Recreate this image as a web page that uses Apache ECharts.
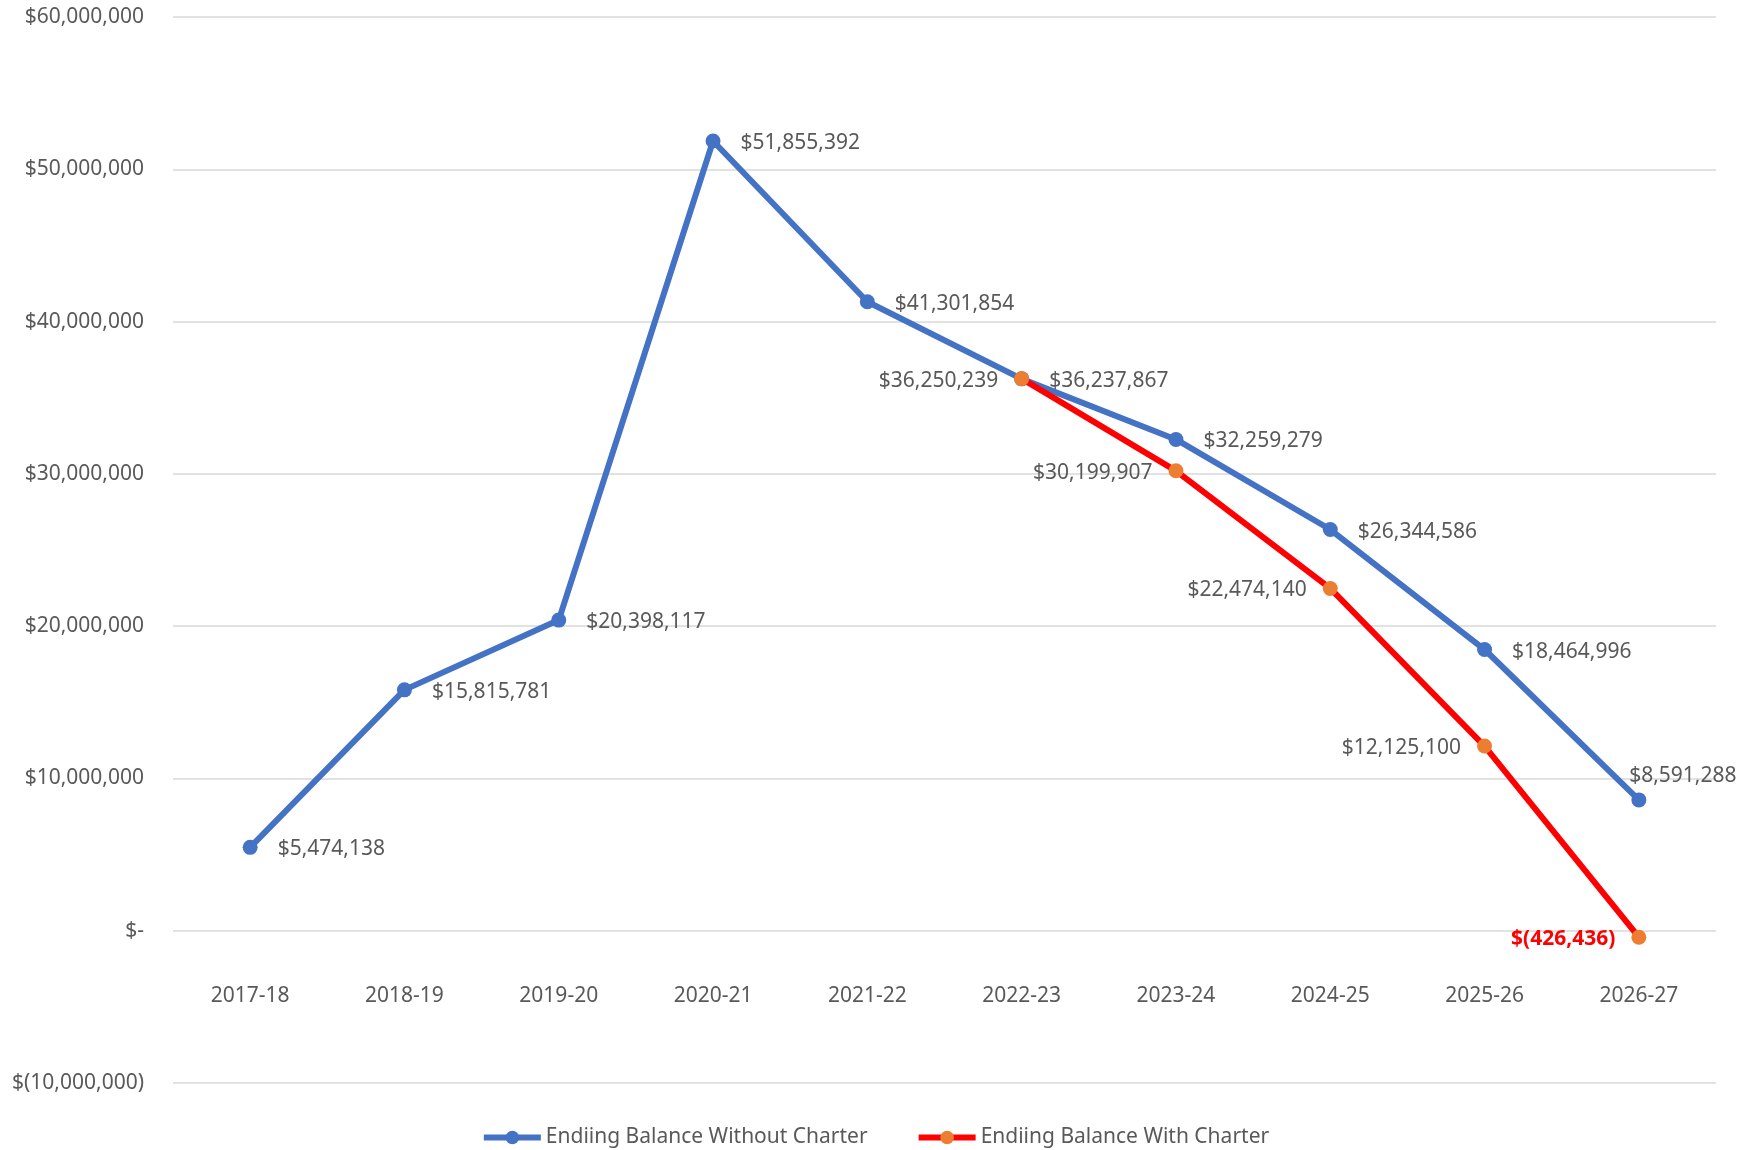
<!DOCTYPE html>
<html>
<head>
<meta charset="utf-8">
<script src="https://cdn.jsdelivr.net/npm/echarts@6/dist/echarts.min.js"></script>
<style>
html,body{margin:0;padding:0;background:#fff;overflow:hidden;}
#chart{width:1750px;height:1150px;}
</style>
</head>
<body>
<div id="chart"></div>
<script>
var categories = ['2017-18','2018-19','2019-20','2020-21','2021-22','2022-23','2023-24','2024-25','2025-26','2026-27'];
var withoutCharter = [5474138, 15815781, 20398117, 51855392, 41301854, 36237867, 32259279, 26344586, 18464996, 8591288];
var withCharter = [null, null, null, null, null, 36250239, 30199907, 22474140, 12125100, -426436];
var seriesNames = ['Endiing Balance Without Charter', 'Endiing Balance With Charter'];
var yMin = -10000000, yMax = 60000000, yStep = 10000000;

var FONT = '"Noto Sans", "Open Sans", sans-serif';
var TXT = '#595959';

function commas(n){ return Math.round(n).toString().replace(/\B(?=(\d{3})+(?!\d))/g, ','); }
function money(v){
  if (v === 0) return '$-';
  if (v < 0) return '$(' + commas(-v) + ')';
  return '$' + commas(v);
}

var blueData = withoutCharter.map(function(v, i){
  var item = {value: v};
  if (i === withoutCharter.length - 1) {
    item.label = {position: 'top', distance: 6, offset: [44, 0]};
  }
  return item;
});
var redData = withCharter.map(function(v, i){
  if (v === null) return null;
  var item = {value: v};
  if (v < 0) {
    item.label = {color: '#FF0000', fontWeight: 'bold'};
  }
  return item;
});

var chart = echarts.init(document.getElementById('chart'), null, {renderer: 'canvas'});
chart.setOption({
  animation: false,
  backgroundColor: '#ffffff',
  textStyle: {fontFamily: FONT},
  grid: {left: 173, right: 34, top: 17, bottom: 67, containLabel: false, outerBoundsMode: 'none'},
  legend: {
    top: 1122,
    left: 'center',
    itemWidth: 57,
    itemHeight: 17,
    itemGap: 48,
    lineStyle: {width: 6},
    textStyle: {fontFamily: FONT, fontSize: 21, color: TXT},
    data: seriesNames
  },
  xAxis: {
    type: 'category',
    data: categories,
    boundaryGap: true,
    axisLine: {show: false, onZero: false},
    axisTick: {show: false},
    axisLabel: {margin: -97, fontSize: 21, color: TXT, fontFamily: FONT},
    splitLine: {show: false}
  },
  yAxis: {
    type: 'value',
    min: yMin, max: yMax, interval: yStep,
    axisLine: {show: false},
    axisTick: {show: false},
    axisLabel: {margin: 29, fontSize: 21, color: TXT, fontFamily: FONT, formatter: money},
    splitLine: {lineStyle: {color: '#D9D9D9', width: 1.5}}
  },
  series: [
    {
      name: seriesNames[0],
      type: 'line',
      data: blueData,
      symbol: 'circle',
      symbolSize: 15,
      showAllSymbol: true,
      lineStyle: {color: '#4472C4', width: 6},
      itemStyle: {color: '#4472C4'},
      label: {show: true, position: 'right', distance: 20, offset: [0, 2], fontSize: 21, color: TXT, fontFamily: FONT,
        formatter: function(p){ return money(p.value); }},
      z: 2
    },
    {
      name: seriesNames[1],
      type: 'line',
      data: redData,
      symbol: 'circle',
      symbolSize: 15,
      showAllSymbol: true,
      lineStyle: {color: '#FF0000', width: 6},
      itemStyle: {color: '#ED7D31'},
      label: {show: true, position: 'left', distance: 16, offset: [0, 2], fontSize: 21, color: TXT, fontFamily: FONT,
        formatter: function(p){ return money(p.value); }},
      z: 3
    }
  ]
});
</script>
</body>
</html>
